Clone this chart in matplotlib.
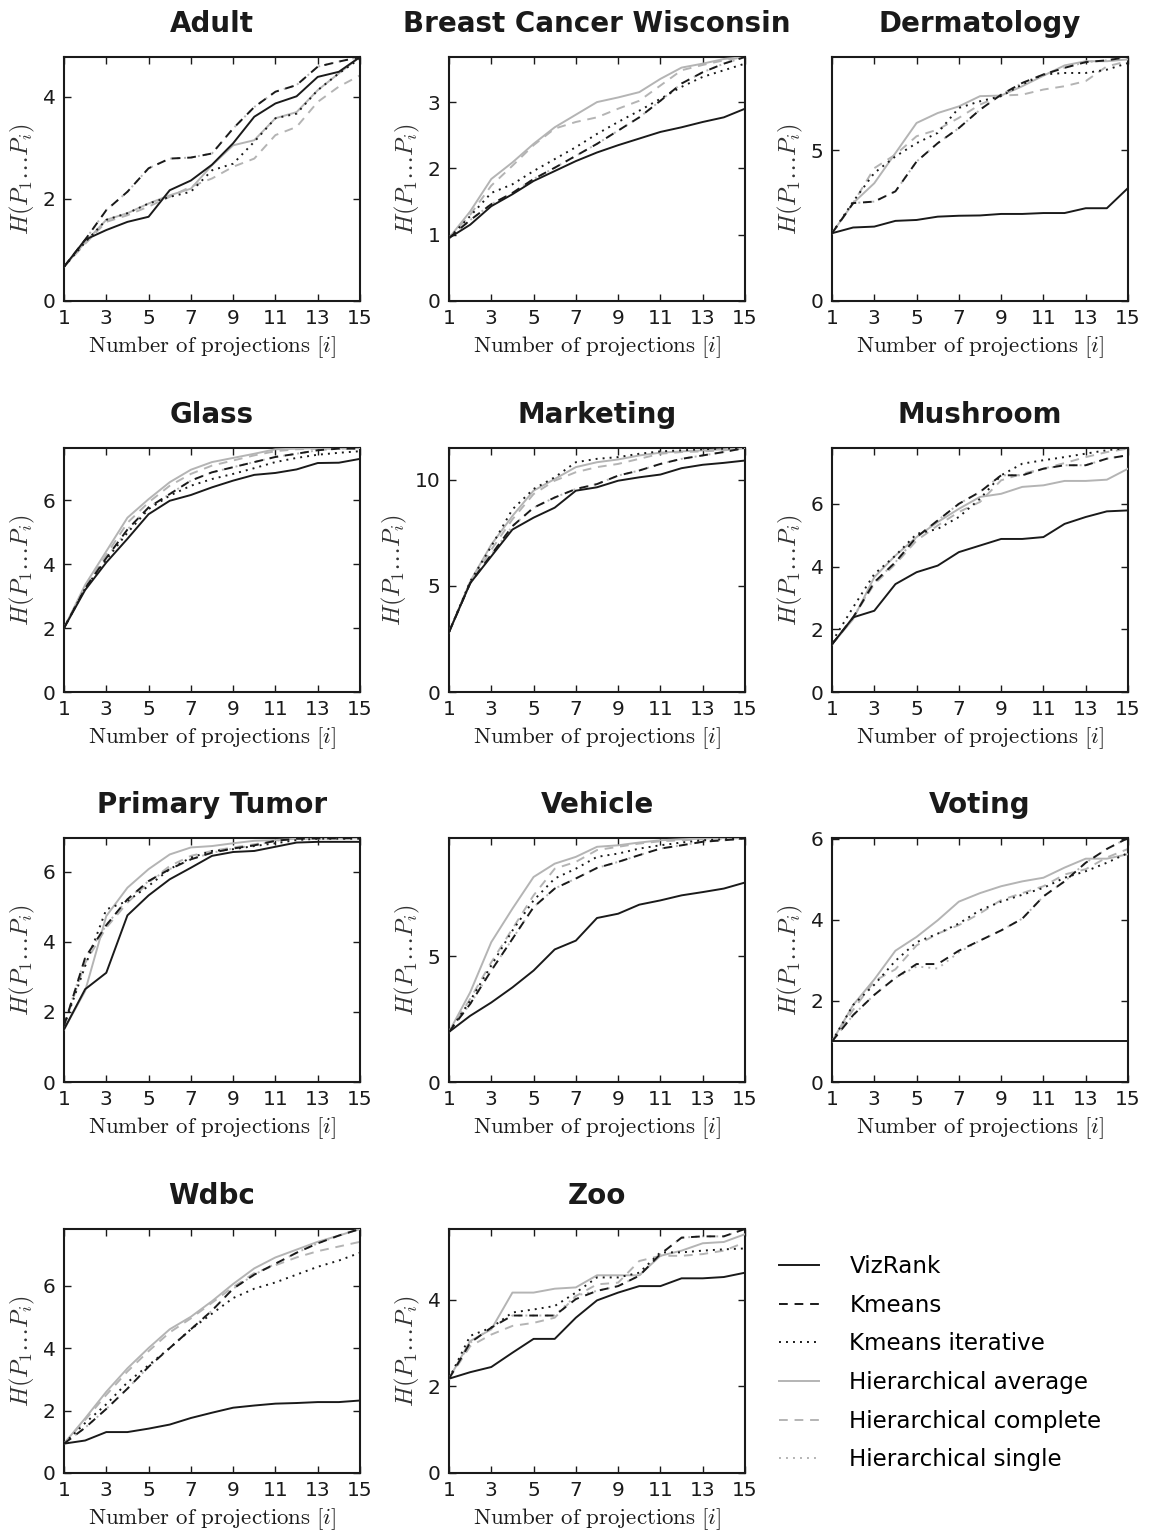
import matplotlib
matplotlib.use("Agg")
import matplotlib.pyplot as plt
from matplotlib.lines import Line2D

plt.rcParams['font.family'] = ['DejaVu Sans']
plt.rcParams['mathtext.fontset'] = 'cm'

# number of projections
x = list(range(1, 16))

methods = ['VizRank', 'Kmeans', 'Kmeans iterative',
           'Hierarchical average', 'Hierarchical complete', 'Hierarchical single']

# each dataset: [VizRank, Kmeans, Kmeans iterative, H. average, H. complete, H. single]
adult = [
    [0.67, 1.20, 1.39, 1.55, 1.65, 2.17, 2.36, 2.67, 3.09, 3.61, 3.87, 4.01, 4.39, 4.49, 4.78],
    [0.67, 1.20, 1.78, 2.14, 2.60, 2.79, 2.81, 2.89, 3.38, 3.80, 4.10, 4.23, 4.59, 4.69, 4.78],
    [0.67, 1.15, 1.59, 1.72, 1.91, 2.04, 2.14, 2.56, 2.69, 3.12, 3.58, 3.67, 4.13, 4.46, 4.75],
    [0.67, 1.15, 1.59, 1.72, 1.91, 2.07, 2.20, 2.66, 3.05, 3.15, 3.58, 3.70, 4.13, 4.46, 4.78],
    [0.67, 1.12, 1.55, 1.68, 1.85, 2.04, 2.24, 2.40, 2.63, 2.79, 3.25, 3.41, 3.90, 4.20, 4.42],
    [0.67, 1.20, 1.78, 2.14, 2.60, 2.79, 2.81, 2.89, 3.38, 3.80, 4.10, 4.23, 4.59, 4.69, 4.78],
]
breast = [
    [0.95, 1.15, 1.43, 1.61, 1.81, 1.96, 2.11, 2.24, 2.35, 2.45, 2.55, 2.62, 2.70, 2.77, 2.90],
    [0.95, 1.22, 1.46, 1.63, 1.84, 2.01, 2.19, 2.37, 2.57, 2.77, 3.02, 3.28, 3.45, 3.58, 3.68],
    [0.95, 1.28, 1.63, 1.76, 1.96, 2.14, 2.32, 2.52, 2.70, 2.87, 3.05, 3.23, 3.38, 3.48, 3.58],
    [0.95, 1.35, 1.84, 2.09, 2.37, 2.62, 2.81, 3.00, 3.07, 3.15, 3.35, 3.52, 3.58, 3.65, 3.68],
    [0.95, 1.30, 1.74, 2.04, 2.35, 2.60, 2.70, 2.77, 2.90, 3.02, 3.25, 3.48, 3.56, 3.63, 3.68],
    [0.95, 1.22, 1.46, 1.63, 1.84, 2.01, 2.19, 2.37, 2.57, 2.77, 3.02, 3.28, 3.45, 3.58, 3.68],
]
dermatology = [
    [2.25, 2.44, 2.47, 2.66, 2.69, 2.80, 2.83, 2.84, 2.89, 2.89, 2.92, 2.92, 3.08, 3.08, 3.75],
    [2.25, 3.25, 3.30, 3.64, 4.63, 5.24, 5.74, 6.35, 6.85, 7.24, 7.52, 7.74, 7.93, 7.99, 8.10],
    [2.25, 3.30, 4.25, 4.80, 5.24, 5.58, 6.41, 6.63, 6.80, 7.19, 7.52, 7.57, 7.57, 7.68, 7.90],
    [2.25, 3.25, 3.91, 4.91, 5.91, 6.24, 6.46, 6.80, 6.82, 7.13, 7.48, 7.82, 7.96, 7.96, 8.02],
    [2.25, 3.25, 4.41, 4.86, 5.47, 5.69, 6.08, 6.52, 6.82, 6.85, 7.02, 7.13, 7.30, 7.79, 7.96],
    [2.25, 3.25, 3.30, 3.64, 4.63, 5.24, 5.74, 6.35, 6.85, 7.24, 7.52, 7.74, 7.93, 7.99, 8.10],
]
glass = [
    [2.00, 3.19, 4.05, 4.79, 5.56, 5.98, 6.16, 6.40, 6.61, 6.79, 6.85, 6.96, 7.16, 7.17, 7.29],
    [2.00, 3.24, 4.19, 5.08, 5.77, 6.19, 6.61, 6.87, 7.03, 7.19, 7.35, 7.45, 7.56, 7.61, 7.61],
    [2.00, 3.24, 4.14, 4.98, 5.72, 6.14, 6.45, 6.66, 6.82, 7.00, 7.19, 7.32, 7.42, 7.48, 7.53],
    [2.00, 3.35, 4.40, 5.45, 6.03, 6.56, 6.95, 7.19, 7.32, 7.45, 7.59, 7.61, 7.63, 7.63, 7.63],
    [2.00, 3.29, 4.29, 5.29, 5.93, 6.45, 6.82, 7.08, 7.24, 7.40, 7.53, 7.59, 7.61, 7.61, 7.63],
    [2.00, 3.24, 4.19, 5.08, 5.77, 6.19, 6.61, 6.87, 7.03, 7.19, 7.35, 7.45, 7.56, 7.61, 7.61],
]
marketing = [
    [2.82, 5.12, 6.39, 7.65, 8.21, 8.68, 9.48, 9.64, 9.95, 10.11, 10.24, 10.54, 10.70, 10.79, 10.90],
    [2.82, 5.12, 6.47, 7.81, 8.68, 9.16, 9.56, 9.79, 10.19, 10.43, 10.74, 10.98, 11.14, 11.30, 11.49],
    [2.82, 5.20, 6.86, 8.60, 9.56, 10.11, 10.82, 10.98, 11.06, 11.22, 11.33, 11.38, 11.43, 11.46, 11.49],
    [2.82, 5.20, 6.94, 8.29, 9.48, 10.03, 10.59, 10.82, 10.95, 11.14, 11.27, 11.33, 11.38, 11.43, 11.49],
    [2.82, 5.12, 6.70, 8.13, 9.32, 9.95, 10.35, 10.59, 10.74, 10.98, 11.22, 11.30, 11.33, 11.38, 11.49],
    [2.82, 5.12, 6.47, 7.81, 8.68, 9.16, 9.56, 9.79, 10.19, 10.43, 10.74, 10.98, 11.14, 11.30, 11.49],
]
mushroom = [
    [1.52, 2.38, 2.59, 3.44, 3.82, 4.03, 4.46, 4.67, 4.88, 4.88, 4.94, 5.36, 5.58, 5.76, 5.79],
    [1.52, 2.38, 3.50, 4.14, 4.94, 5.47, 6.00, 6.38, 6.91, 6.91, 7.12, 7.23, 7.23, 7.44, 7.55],
    [1.60, 2.70, 3.76, 4.35, 5.04, 5.20, 5.58, 6.16, 6.91, 7.28, 7.39, 7.49, 7.60, 7.71, 7.78],
    [1.52, 2.32, 3.66, 4.35, 4.94, 5.42, 5.84, 6.22, 6.32, 6.54, 6.59, 6.73, 6.73, 6.77, 7.12],
    [1.52, 2.38, 3.44, 4.08, 4.83, 5.31, 5.74, 6.06, 6.75, 6.96, 7.12, 7.30, 7.49, 7.65, 7.76],
    [1.52, 2.38, 3.50, 4.14, 4.94, 5.47, 6.00, 6.38, 6.91, 6.91, 7.12, 7.23, 7.23, 7.44, 7.55],
]
primary_tumor = [
    [1.50, 2.65, 3.12, 4.76, 5.33, 5.79, 6.12, 6.46, 6.57, 6.60, 6.72, 6.84, 6.86, 6.86, 6.86],
    [1.60, 3.55, 4.48, 5.22, 5.74, 6.08, 6.36, 6.55, 6.67, 6.76, 6.89, 6.95, 6.96, 6.96, 6.97],
    [1.60, 3.31, 4.93, 5.17, 5.60, 6.08, 6.41, 6.60, 6.65, 6.74, 6.82, 6.91, 6.95, 6.95, 6.95],
    [1.50, 2.60, 4.74, 5.55, 6.08, 6.50, 6.70, 6.74, 6.82, 6.89, 6.91, 6.95, 6.96, 6.96, 6.97],
    [1.60, 3.40, 4.41, 5.12, 5.70, 6.17, 6.46, 6.60, 6.70, 6.79, 6.89, 6.95, 6.96, 6.96, 6.97],
    [1.60, 3.55, 4.48, 5.22, 5.74, 6.08, 6.36, 6.55, 6.67, 6.76, 6.89, 6.95, 6.96, 6.96, 6.97],
]
vehicle = [
    [1.99, 2.63, 3.16, 3.76, 4.43, 5.27, 5.62, 6.52, 6.69, 7.05, 7.22, 7.42, 7.55, 7.69, 7.93],
    [1.99, 3.10, 4.43, 5.69, 6.95, 7.69, 8.09, 8.51, 8.75, 9.02, 9.28, 9.41, 9.55, 9.61, 9.68],
    [1.99, 3.23, 4.63, 6.02, 7.22, 8.09, 8.48, 8.95, 9.08, 9.28, 9.41, 9.52, 9.61, 9.65, 9.68],
    [1.99, 3.56, 5.56, 6.89, 8.15, 8.68, 8.95, 9.35, 9.41, 9.52, 9.61, 9.65, 9.68, 9.70, 9.70],
    [1.99, 3.30, 4.76, 6.09, 7.42, 8.48, 8.75, 9.22, 9.35, 9.48, 9.57, 9.61, 9.65, 9.68, 9.70],
    [1.99, 3.10, 4.43, 5.69, 6.95, 7.69, 8.09, 8.51, 8.75, 9.02, 9.28, 9.41, 9.55, 9.61, 9.68],
]
voting = [
    [1.00, 1.00, 1.00, 1.00, 1.00, 1.00, 1.00, 1.00, 1.00, 1.00, 1.00, 1.00, 1.00, 1.00, 1.00],
    [1.00, 1.65, 2.15, 2.57, 2.91, 2.91, 3.24, 3.49, 3.74, 4.03, 4.58, 4.95, 5.41, 5.75, 6.02],
    [1.00, 1.90, 2.40, 2.99, 3.45, 3.66, 3.91, 4.24, 4.45, 4.62, 4.79, 5.04, 5.20, 5.41, 5.65],
    [1.00, 1.90, 2.53, 3.24, 3.58, 3.99, 4.45, 4.66, 4.83, 4.95, 5.04, 5.29, 5.51, 5.51, 5.62],
    [1.00, 1.78, 2.49, 2.78, 3.37, 3.66, 3.87, 4.16, 4.49, 4.66, 4.83, 5.12, 5.25, 5.54, 5.75],
    [1.00, 1.65, 2.15, 2.57, 2.85, 2.80, 3.20, 3.49, 3.74, 4.03, 4.58, 4.95, 5.41, 5.75, 6.02],
]
wdbc = [
    [0.94, 1.04, 1.31, 1.31, 1.42, 1.55, 1.76, 1.93, 2.09, 2.16, 2.22, 2.24, 2.27, 2.27, 2.32],
    [0.94, 1.45, 2.05, 2.70, 3.40, 4.00, 4.60, 5.20, 5.90, 6.35, 6.70, 7.05, 7.35, 7.60, 7.81],
    [0.94, 1.60, 2.20, 2.90, 3.45, 4.00, 4.60, 5.10, 5.60, 5.90, 6.10, 6.35, 6.60, 6.80, 7.05],
    [0.94, 1.75, 2.60, 3.35, 4.00, 4.60, 5.00, 5.50, 6.05, 6.55, 6.90, 7.15, 7.40, 7.60, 7.81],
    [0.94, 1.70, 2.50, 3.25, 3.90, 4.50, 4.95, 5.45, 5.95, 6.40, 6.65, 6.90, 7.10, 7.25, 7.40],
    [0.94, 1.45, 2.05, 2.70, 3.40, 4.00, 4.60, 5.20, 5.90, 6.35, 6.70, 7.05, 7.35, 7.60, 7.81],
]
zoo = [
    [2.18, 2.33, 2.45, 2.78, 3.10, 3.10, 3.59, 3.99, 4.17, 4.32, 4.32, 4.50, 4.50, 4.53, 4.63],
    [2.18, 3.01, 3.36, 3.64, 3.64, 3.64, 4.02, 4.21, 4.32, 4.56, 5.06, 5.44, 5.47, 5.47, 5.64],
    [2.18, 3.17, 3.36, 3.71, 3.78, 3.86, 4.17, 4.52, 4.52, 4.63, 5.10, 5.10, 5.14, 5.17, 5.19],
    [2.18, 3.05, 3.32, 4.17, 4.17, 4.26, 4.29, 4.57, 4.57, 4.57, 5.02, 5.14, 5.31, 5.34, 5.52],
    [2.18, 2.93, 3.20, 3.40, 3.47, 3.59, 4.09, 4.36, 4.40, 4.90, 5.02, 5.02, 5.06, 5.14, 5.33],
    [2.18, 3.01, 3.36, 3.64, 3.64, 3.64, 4.10, 4.21, 4.32, 4.56, 5.06, 5.44, 5.47, 5.47, 5.64],
]

titles = ['Adult', 'Breast Cancer Wisconsin', 'Dermatology', 'Glass', 'Marketing',
          'Mushroom', 'Primary Tumor', 'Vehicle', 'Voting', 'Wdbc', 'Zoo']
panels = [adult, breast, dermatology, glass, marketing, mushroom,
          primary_tumor, vehicle, voting, wdbc, zoo]
yticks = [[0, 2, 4], [0, 1, 2, 3], [0, 5], [0, 2, 4, 6], [0, 5, 10], [0, 2, 4, 6],
          [0, 2, 4, 6], [0, 5], [0, 2, 4, 6], [0, 2, 4, 6], [0, 2, 4]]

GRAY = '#b4b4b4'
DARK = '#1a1a1a'
styles = [
    dict(color=DARK, linestyle='-', zorder=6),
    dict(color=DARK, linestyle=(0, (4.5, 3.5)), zorder=5),
    dict(color=DARK, linestyle=(0, (1, 2.6)), zorder=4),
    dict(color=GRAY, linestyle='-', zorder=3),
    dict(color=GRAY, linestyle=(0, (4.5, 3.5)), zorder=2),
    dict(color=GRAY, linestyle=(0, (1, 2.6)), zorder=1),
]

W, H = 1151, 1531
fig = plt.figure(figsize=(W / 100, H / 100), dpi=100)

col_left = [64, 449, 832]
row_top = [57, 448, 838, 1229]
ax_w, ax_h = 296, 244

for k, (title, data) in enumerate(zip(titles, panels)):
    r, c = divmod(k, 3)
    ax = fig.add_axes([col_left[c] / W, 1 - (row_top[r] + ax_h) / H, ax_w / W, ax_h / H])
    for series, st in zip(data, styles):
        ax.plot(x, series, lw=1.4, **st)
    ax.set_xlim(1, 15)
    ax.set_ylim(0, max(max(s) for s in data))
    ax.set_xticks(range(1, 16, 2))
    ax.set_yticks(yticks[k])
    ax.tick_params(direction='in', length=5, width=1, top=True, right=True,
                   labelsize=14.5, pad=6, colors=DARK)
    for sp in ax.spines.values():
        sp.set_linewidth(1.5)
        sp.set_color(DARK)
    ax.set_title(title, fontsize=20, fontweight='bold', color=DARK, pad=18)
    ax.set_xlabel(r'$\mathrm{Number\ of\ projections\ }[i]$', fontsize=16.5,
                  color=DARK, labelpad=4)
    ax.set_ylabel(r'$H(P_1\ldots P_i)$', fontsize=17.5, color='#333333', labelpad=4)

handles = [Line2D([0], [0], lw=1.4, **{k: v for k, v in st.items() if k != 'zorder'})
           for st in styles]
fig.legend(handles, methods, loc='upper left', frameon=False,
           bbox_to_anchor=(779 / W, 1 - 1255 / H), fontsize=16.6,
           handlelength=1.75, handletextpad=1.3, labelspacing=0.68,
           borderpad=0, borderaxespad=0)

fig.savefig('out.png', dpi=100)
